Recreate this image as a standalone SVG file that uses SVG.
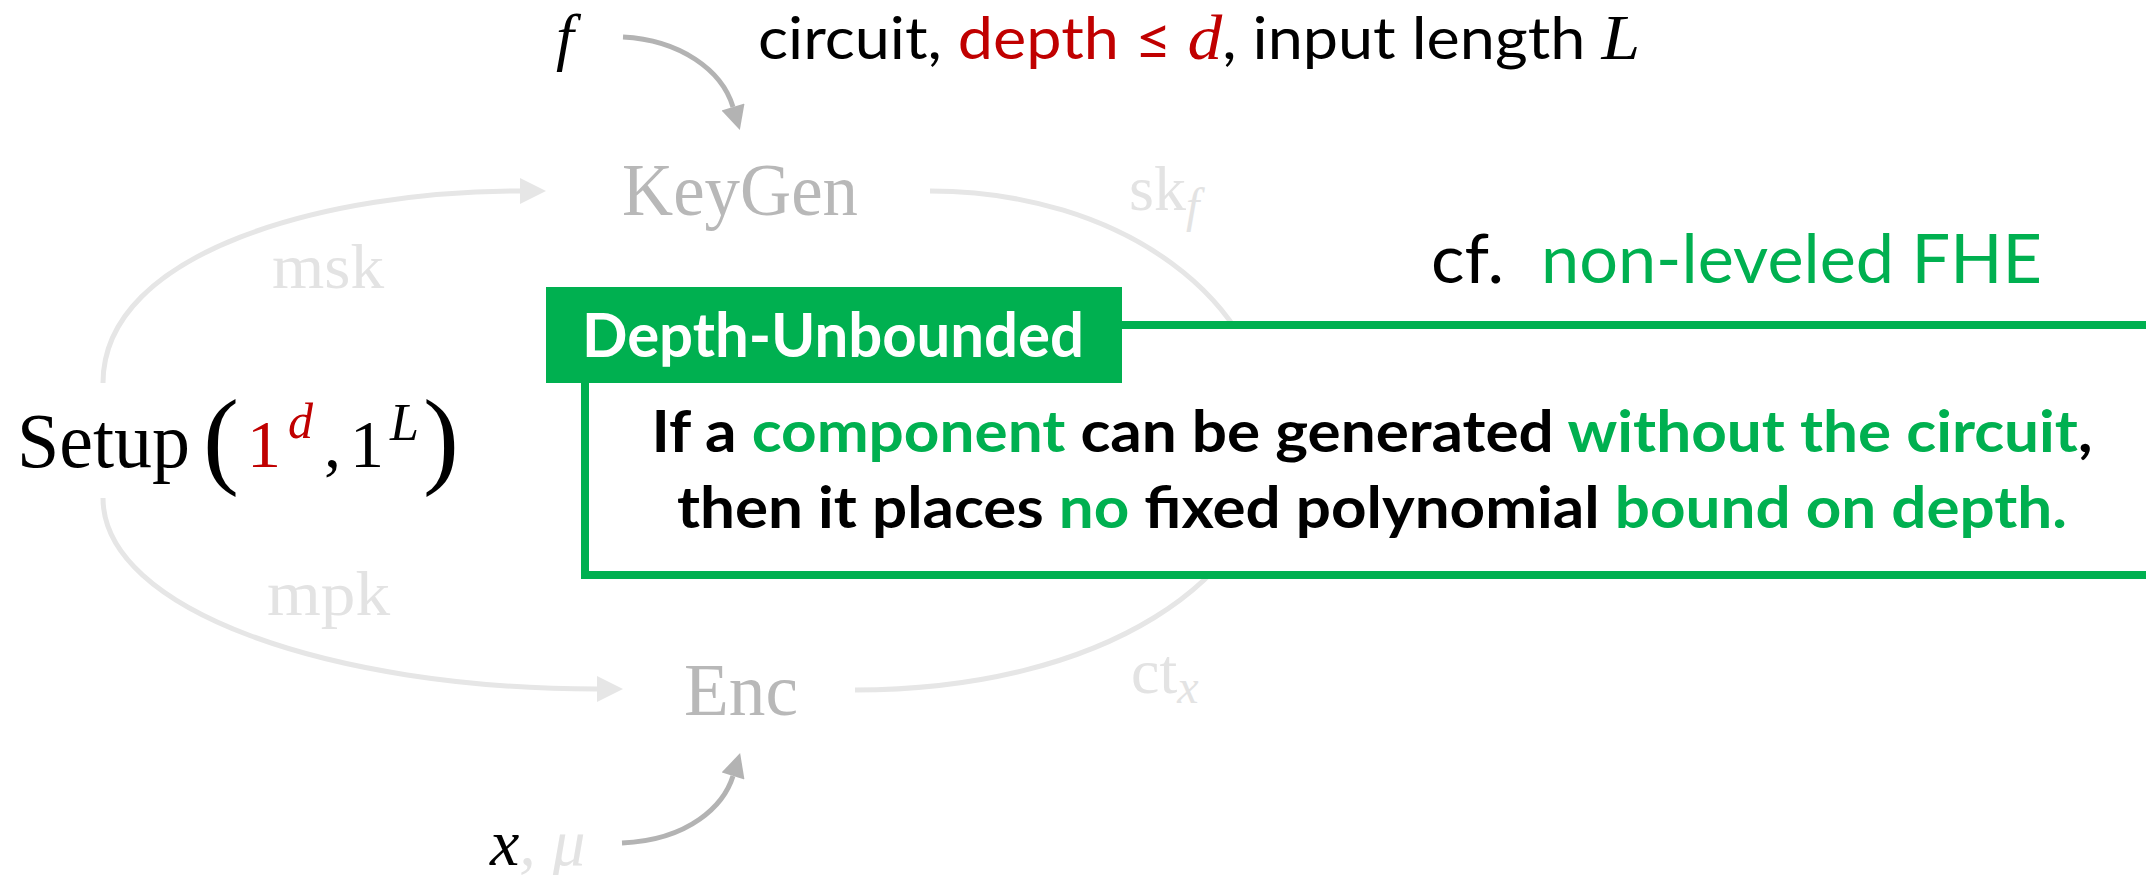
<svg xmlns="http://www.w3.org/2000/svg" width="2146" height="875" viewBox="0 0 2146 875">
  <style>
    .serif { font-family: "Liberation Serif", "Times New Roman", serif; }
    .sans { font-family: Lato, "Liberation Sans", Arial, sans-serif; }
    .it { font-style: italic; }
    .node { fill: #b8b8b8; font-size: 74px; }
    .lbl { fill: #e3e3e3; font-size: 64px; }
    .arc { fill: none; stroke: #e6e6e6; stroke-width: 5; }
    .inarrow { fill: none; stroke: #b3b3b3; stroke-width: 5; }
    .red { fill: #C00000; }
    .green { fill: #00B050; }
    .black { fill: #000000; }
  </style>
  <defs>
    <marker id="ahLight" viewBox="0 0 10 10" refX="0" refY="5" markerWidth="26" markerHeight="26" markerUnits="userSpaceOnUse" orient="auto">
      <path d="M0,0 L10,5 L0,10 z" fill="#e6e6e6"/>
    </marker>
    <marker id="ahGray" viewBox="0 0 10 10" refX="0" refY="5" markerWidth="26" markerHeight="24" markerUnits="userSpaceOnUse" orient="auto">
      <path d="M0,0 L10,5 L0,10 z" fill="#b3b3b3"/>
    </marker>
  </defs>

  <rect width="2146" height="875" fill="#ffffff"/>

  <g id="connectors">
    <path class="arc" d="M103,383 C103,250 330,191 520,191" marker-end="url(#ahLight)"/>
    <path class="arc" d="M103,498 C103,610 330,689 597,689" marker-end="url(#ahLight)"/>
    <path class="arc" d="M930,191 C1120,191 1270,300 1270,440 C1270,580 1100,690 855,690"/>
    <path class="inarrow" d="M623,37 C680,40 722,70 733,107" marker-end="url(#ahGray)"/>
    <path class="inarrow" d="M622,843 C690,840 724,805 733,776" marker-end="url(#ahGray)"/>
  </g>

  <g id="edge-labels">
    <text class="serif lbl" x="272" y="288" textLength="112" lengthAdjust="spacingAndGlyphs">msk</text>
    <text class="serif lbl" x="267" y="615" textLength="123" lengthAdjust="spacingAndGlyphs">mpk</text>
    <text class="serif lbl" x="1129" y="210">sk<tspan class="it" font-size="48" dy="12">f</tspan></text>
    <text class="serif lbl" x="1131" y="693">ct<tspan class="it" font-size="48" dy="10">x</tspan></text>
  </g>

  <g id="node-keygen">
    <text class="serif node" x="622" y="215" textLength="236" lengthAdjust="spacingAndGlyphs">KeyGen</text>
  </g>

  <g id="node-enc">
    <text class="serif node" x="684" y="715" textLength="114" lengthAdjust="spacingAndGlyphs">Enc</text>
  </g>

  <g id="node-setup">
    <text class="serif black" x="17" y="467" font-size="78" textLength="173" lengthAdjust="spacingAndGlyphs">Setup</text>
    <text class="serif black" x="203" y="474" font-size="108">(</text>
    <text class="serif red" x="247" y="467" font-size="68">1</text>
    <text class="serif red it" x="288" y="438" font-size="50">d</text>
    <text class="serif black" x="324" y="467" font-size="68">,</text>
    <text class="serif black" x="350" y="467" font-size="68">1</text>
    <text class="serif black it" x="390" y="440" font-size="52">L</text>
    <text class="serif black" x="423" y="474" font-size="108">)</text>
  </g>

  <g id="input-f">
    <text class="serif black it" x="556" y="58" font-size="64">f</text>
  </g>

  <g id="input-x">
    <text class="serif it" x="490" y="865" font-size="66"><tspan class="black">x</tspan><tspan fill="#e3e3e3">, μ</tspan></text>
  </g>

  <g id="note-top">
    <text class="sans" x="758" y="59" font-size="58" textLength="882" lengthAdjust="spacingAndGlyphs"><tspan class="black">circuit, </tspan><tspan class="red">depth ≤ </tspan><tspan class="red serif it" font-size="64">d</tspan><tspan class="black">, input length </tspan><tspan class="black serif it" font-size="64">L</tspan></text>
  </g>

  <g id="note-cf">
    <text class="sans black" x="1431" y="283" font-size="67" textLength="73" lengthAdjust="spacingAndGlyphs">cf.</text>
    <text class="sans green" x="1541" y="283" font-size="67" textLength="501" lengthAdjust="spacingAndGlyphs">non-leveled FHE</text>
  </g>

  <g id="callout-depth-unbounded">
    <rect x="585" y="325" width="1600" height="250" fill="#ffffff" stroke="#00B050" stroke-width="8"/>
    <rect x="546" y="287" width="576" height="96" fill="#00B050"/>
    <text class="sans" x="582" y="357" font-size="62" font-weight="bold" fill="#ffffff" textLength="502" lengthAdjust="spacingAndGlyphs">Depth-Unbounded</text>
    <text class="sans" x="1372" y="452" font-size="58" font-weight="bold" text-anchor="middle" textLength="1441" lengthAdjust="spacingAndGlyphs"><tspan class="black">If a </tspan><tspan class="green">component</tspan><tspan class="black"> can be generated </tspan><tspan class="green">without the circuit</tspan><tspan class="black">,</tspan></text>
    <text class="sans" x="1372" y="528" font-size="58" font-weight="bold" text-anchor="middle" textLength="1390" lengthAdjust="spacingAndGlyphs"><tspan class="black">then it places </tspan><tspan class="green">no</tspan><tspan class="black"> fixed polynomial </tspan><tspan class="green">bound on depth.</tspan></text>
  </g>
</svg>
